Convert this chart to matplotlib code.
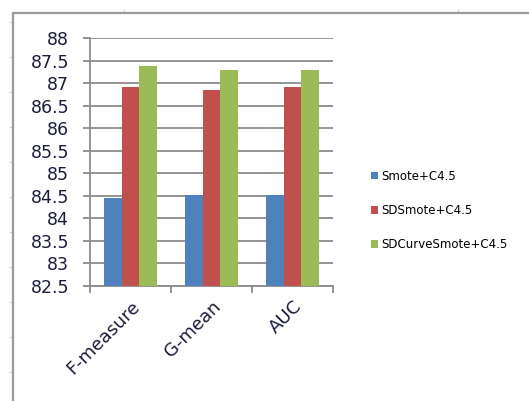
import numpy as np
import matplotlib.pyplot as plt

categories = ["F-measure", "G-mean", "AUC"]
series_names = ["Smote+C4.5", "SDSmote+C4.5", "SDCurveSmote+C4.5"]
smote = [84.45, 84.52, 84.52]
sdsmote = [86.92, 86.84, 86.92]
sdcurve = [87.38, 87.30, 87.30]
y_ticks = [82.5, 83, 83.5, 84, 84.5, 85, 85.5, 86, 86.5, 87, 87.5, 88]

colors = ["#4F81BD", "#C0504D", "#9BBB59"]
W, H = 529, 401

fig = plt.figure(figsize=(W / 100, H / 100), dpi=100)

# outer chart frame (left and top edges only, with faint tick marks)
frame = fig.add_axes([13 / W, 0, 1 - 13 / W, (H - 13) / H])
frame.set_xlim(13, W)
frame.set_ylim(H, 13)
frame.patch.set_alpha(0)
for side in ["right", "bottom"]:
    frame.spines[side].set_visible(False)
for side in ["left", "top"]:
    frame.spines[side].set_color("#9a9a9a")
    frame.spines[side].set_linewidth(1.6)
frame.xaxis.tick_top()
frame.set_xticks([124, 458])
frame.set_yticks(np.arange(21.7, H, 35))
frame.tick_params(length=3, color="#d0d0d0", labelleft=False, labeltop=False)

ax = fig.add_axes([90 / W, 1 - 286 / H, (333 - 90) / W, (286 - 38) / H])
x = np.arange(len(categories))
bw = 0.218
for i, (vals, name) in enumerate(zip([smote, sdsmote, sdcurve], series_names)):
    ax.bar(x + (i - 1) * bw, np.array(vals) - 82.5, bw, bottom=82.5,
           color=colors[i], label=name, zorder=3)

ax.set_ylim(82.5, 88)
ax.set_xlim(-0.5, len(categories) - 0.5)
ax.set_yticks(y_ticks)
ax.set_yticklabels([f"{v:g}" for v in y_ticks], fontsize=12.5, color="#1c1c3c")
ax.yaxis.grid(True, color="#8c8c8c", linewidth=1.3, zorder=0)

ax.set_xticks(x)
ax.set_xticklabels(categories, rotation=45, ha="right", rotation_mode="anchor",
                   fontsize=13, color="#1c1c3c")
ax.set_xticks(np.arange(-0.5, len(categories)), minor=True)
ax.tick_params(axis="x", which="major", length=0, pad=8)
ax.tick_params(axis="x", which="minor", length=5, color="#8c8c8c", width=1.3)
ax.tick_params(axis="y", length=5, color="#8c8c8c", width=1.3, pad=10)

for side in ["top", "right"]:
    ax.spines[side].set_visible(False)
for side in ["left", "bottom"]:
    ax.spines[side].set_color("#8c8c8c")
    ax.spines[side].set_linewidth(1.3)

fig.legend(loc="upper left", bbox_to_anchor=(366 / W, 1 - 165 / H), frameon=False,
           fontsize=8.5, handlelength=0.6, handleheight=0.6, handletextpad=0.3,
           labelspacing=1.8, borderaxespad=0)

fig.savefig("out.png", dpi=100)
